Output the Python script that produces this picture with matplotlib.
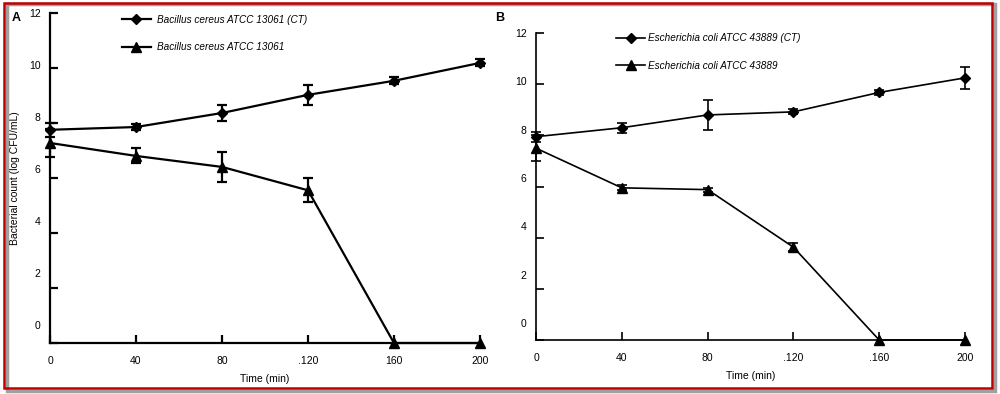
import matplotlib
matplotlib.use("Agg")
import matplotlib.pyplot as plt
from matplotlib.patches import Rectangle
from matplotlib.transforms import blended_transform_factory

plt.rcParams['font.family'] = ['Liberation Sans', 'DejaVu Sans']

# data
time = [0, 40, 80, 120, 160, 200]
time_labels_a = ['0', '40', '80', '.120', '160', '200']
time_labels_b = ['0', '40', '80', '.120', '.160', '200']
y_ticks = [0, 2, 4, 6, 8, 10, 12]

bc_ct = [7.75, 7.85, 8.36, 9.02, 9.53, 10.18]
bc_ct_err = [0.25, 0.1, 0.3, 0.36, 0.13, 0.13]
bc = [7.27, 6.8, 6.4, 5.55, 0, 0]
bc_err = [0.5, 0.27, 0.53, 0.44, 0, 0]

ec_ct = [7.95, 8.3, 8.8, 8.92, 9.68, 10.25]
ec_ct_err = [0.2, 0.19, 0.6, 0.1, 0.1, 0.42]
ec = [7.5, 5.95, 5.88, 3.63, 0, 0]
ec_err = [0.5, 0.1, 0.08, 0.15, 0, 0]

fig = plt.figure(figsize=(10, 3.94), dpi=100)

# red frame with grey shadow
fig.patches.append(Rectangle((0.007, 0.008), 0.988, 0.982, transform=fig.transFigure,
                             fill=False, edgecolor='#a0a0a0', linewidth=2.5, zorder=0))
fig.patches.append(Rectangle((0.004, 0.015), 0.988, 0.978, transform=fig.transFigure,
                             fill=False, edgecolor='#c00000', linewidth=1.8, zorder=1))


def draw_panel(ax, ct, ct_err, tr, tr_err, names, xlabels, lw, legend_pos, textpad):
    ax.errorbar(time, ct, yerr=ct_err, fmt='none', ecolor='black', capsize=3.5,
                elinewidth=lw, capthick=lw, clip_on=False, zorder=3)
    ax.errorbar(time, tr, yerr=[e if e > 0 else float('nan') for e in tr_err], fmt='none',
                ecolor='black', capsize=3.5, elinewidth=lw, capthick=lw, clip_on=False, zorder=3)
    ax.plot(time, ct, color='black', lw=lw, marker='D', ms=5.5, clip_on=False,
            label=names[0], zorder=4)
    ax.plot(time, tr, color='black', lw=lw, marker='^', ms=7, clip_on=False,
            label=names[1], zorder=4)
    ax.set_xlim(0, 200)
    ax.set_ylim(0, 12)
    for s in ['top', 'right']:
        ax.spines[s].set_visible(False)
    for s in ['left', 'bottom']:
        ax.spines[s].set_linewidth(lw)
    ax.set_xticks(time)
    ax.set_xticklabels(xlabels)
    ax.set_yticks(y_ticks)
    ax.set_yticklabels([])
    ax.tick_params(axis='both', direction='in', length=6, width=lw, labelsize=7.5)
    ax.tick_params(axis='x', pad=9)
    # tick labels drift upward in the original figure
    tr_y = blended_transform_factory(ax.transAxes, ax.transData)
    for v in y_ticks:
        ax.text(-0.022, 0.62 + v * 0.945, str(v), transform=tr_y, ha='right', va='center', fontsize=7.5)
    ax.set_xlabel('Time (min)', fontsize=7.5, labelpad=6)
    leg = ax.legend(loc='upper left', bbox_to_anchor=legend_pos, frameon=False, fontsize=7.2,
                    handlelength=2.9, handletextpad=textpad, labelspacing=1.75, borderpad=0)
    for t in leg.get_texts():
        t.set_fontstyle('italic')


ax1 = fig.add_axes([0.05, 0.1294, 0.43, 0.838])
draw_panel(ax1, bc_ct, bc_ct_err, bc, bc_err,
           ['Bacillus cereus ATCC 13061 (CT)', 'Bacillus cereus ATCC 13061'],
           time_labels_a, 1.6, (0.155, 1.01), 0.6)
ax1.set_ylabel('Bacterial count (log CFU/mL)', fontsize=7.5, labelpad=18)

ax2 = fig.add_axes([0.536, 0.137, 0.429, 0.779])
draw_panel(ax2, ec_ct, ec_ct_err, ec, ec_err,
           ['Escherichia coli ATCC 43889 (CT)', 'Escherichia coli ATCC 43889'],
           time_labels_b, 1.2, (0.175, 1.015), 0.25)

fig.text(0.012, 0.955, 'A', fontsize=9, fontweight='bold', va='center')
fig.text(0.495, 0.955, 'B', fontsize=9, fontweight='bold', va='center')

fig.savefig('out.png', dpi=100)
